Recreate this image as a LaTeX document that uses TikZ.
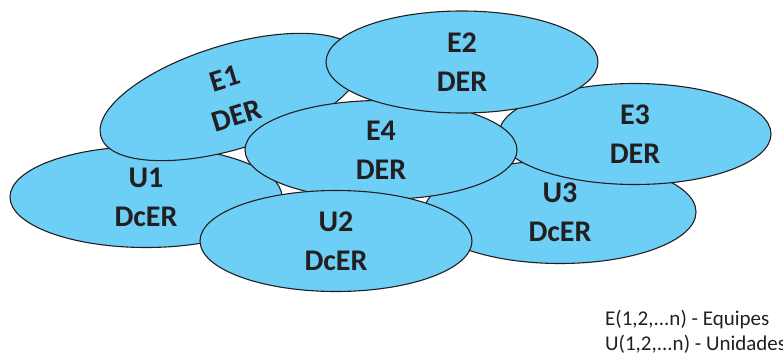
\documentclass[tikz,border=0pt]{standalone}
\usepackage{fontspec}
\setmainfont{Carlito}
\usetikzlibrary{shapes.geometric}
\definecolor{cellfill}{RGB}{109,207,246}
\definecolor{inkdark}{RGB}{35,31,32}
\tikzset{
  cell/.style={ellipse, draw=inkdark, line width=1.1pt, fill=cellfill,
    inner sep=0pt, minimum width=272pt, minimum height=101pt,
    text=inkdark, align=center,
    font=\fontsize{30}{39}\selectfont\bfseries},
  legend/.style={anchor=base west, inner sep=0pt, text=inkdark,
    font=\fontsize{21}{25}\selectfont}
}
\begin{document}
\begin{tikzpicture}[x=1pt, y=-1pt]
  \useasboundingbox (0,0) rectangle (783,355);
  % cells, back to front
  \node[cell] (u1) at (146,197) {U1\\DcER};
  \node[cell, rotate=17, minimum height=104pt] (e1) at (231,97) {E1\\DER};
  \node[cell, minimum height=103pt] (u3) at (560,212) {U3\\DcER};
  \node[cell] (e3) at (635,134) {E3\\DER};
  \node[cell, minimum height=99pt] (e4) at (381,150) {E4\\DER};
  \node[cell, minimum height=102pt] (e2) at (462,62) {E2\\DER};
  \node[cell] (u2) at (336,241) {U2\\DcER};
  % legend
  \node[legend] (legE) at (605,325) {E(1,2,...n) - Equipes};
  \node[legend] (legU) at (605,350) {U(1,2,...n) - Unidades};
\end{tikzpicture}
\end{document}
